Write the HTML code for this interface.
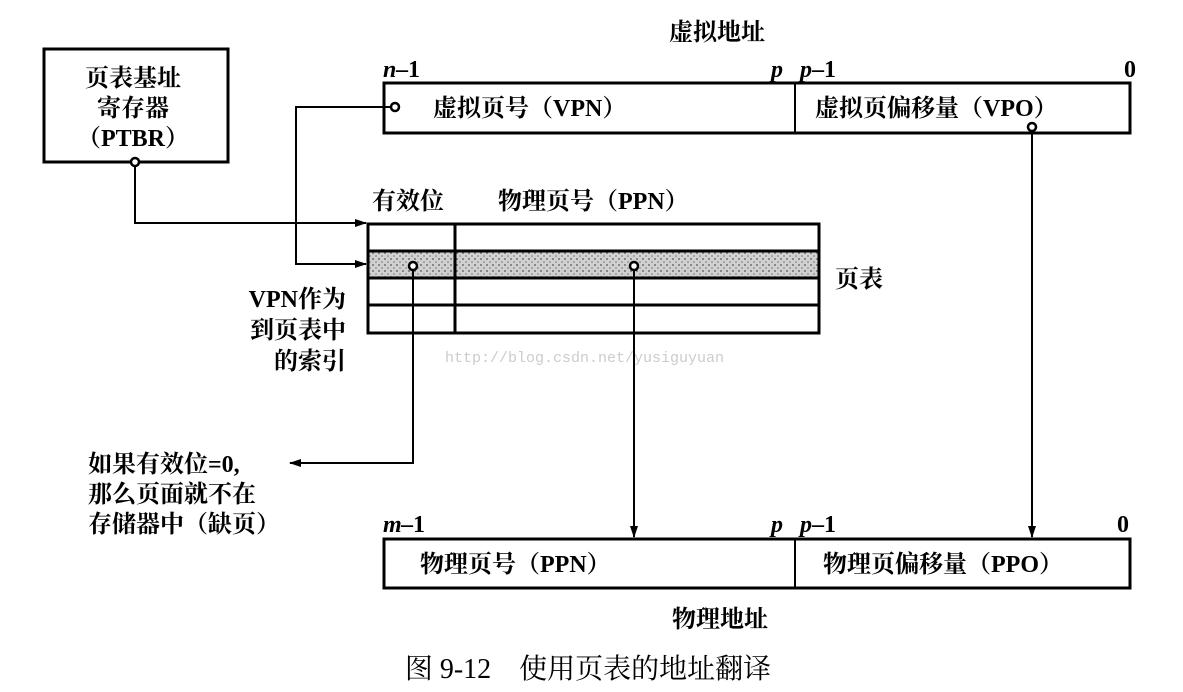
<!DOCTYPE html>
<html><head><meta charset="utf-8"><style>
body{margin:0;background:#fff;}
svg{display:block;}
text{font-family:"Liberation Serif","Noto Serif CJK SC",serif;font-size:24px;fill:#000;font-weight:bold;}
.i{font-style:italic;}
</style></head><body>
<svg width="1183" height="692" viewBox="0 0 1183 692" xmlns="http://www.w3.org/2000/svg">
<defs>
<marker id="a" markerWidth="12" markerHeight="8" refX="11" refY="4" orient="auto" markerUnits="userSpaceOnUse"><path d="M0,0 L12,4 L0,8 Z" fill="#000"/></marker>
<pattern id="dots" width="6" height="6" patternUnits="userSpaceOnUse"><rect width="6" height="6" fill="#d0d0d0"/><circle cx="1" cy="1" r="0.9" fill="#555"/><circle cx="4" cy="4" r="0.8" fill="#777"/></pattern>
</defs>
<text x="717" y="40" text-anchor="middle">虚拟地址</text>
<rect x="44" y="49" width="184" height="113" fill="none" stroke="#000" stroke-width="3"/>
<text x="133" y="86" text-anchor="middle">页表基址</text>
<text x="133" y="116" text-anchor="middle">寄存器</text>
<text x="133" y="146" text-anchor="middle">（PTBR）</text>
<text x="383" y="77" class="i">n</text><text x="396" y="77">–1</text>
<text x="771" y="77" class="i">p</text><text x="800" y="77" class="i">p</text><text x="812" y="77">–1</text>
<text x="1124" y="77">0</text>
<rect x="384" y="83" width="746" height="50" fill="none" stroke="#000" stroke-width="3"/>
<line x1="795" y1="83" x2="795" y2="133" stroke="#000" stroke-width="2"/>
<text x="433" y="116">虚拟页号（VPN）</text>
<text x="815" y="116">虚拟页偏移量（VPO）</text>
<text x="372" y="209">有效位</text>
<text x="498" y="209">物理页号（PPN）</text>
<rect x="368" y="251" width="451" height="27" fill="url(#dots)"/>
<rect x="368" y="224" width="451" height="109" fill="none" stroke="#000" stroke-width="3"/>
<line x1="368" y1="251" x2="819" y2="251" stroke="#000" stroke-width="3"/>
<line x1="368" y1="278" x2="819" y2="278" stroke="#000" stroke-width="3"/>
<line x1="368" y1="305" x2="819" y2="305" stroke="#000" stroke-width="3"/>
<line x1="455" y1="224" x2="455" y2="333" stroke="#000" stroke-width="3"/>
<text x="835" y="287">页表</text>
<text x="346" y="307" text-anchor="end">VPN作为</text>
<text x="346" y="338" text-anchor="end">到页表中</text>
<text x="346" y="369" text-anchor="end">的索引</text>
<text x="445" y="362" style="font-family:'Liberation Mono',monospace;font-size:15px;font-weight:normal;fill:#ccc">http://blog.csdn.net/yusiguyuan</text>
<g fill="none" stroke="#000" stroke-width="2">
<polyline points="135,162 135,223 366,223" marker-end="url(#a)"/>
<polyline points="395,107 296,107 296,264 366,264" marker-end="url(#a)"/>
<polyline points="413,266 413,463 290,463" marker-end="url(#a)"/>
<polyline points="634,266 634,537" marker-end="url(#a)"/>
<polyline points="1032,127 1032,537" marker-end="url(#a)"/>
</g>
<g fill="#fff" stroke="#000" stroke-width="2.5">
<circle cx="135" cy="162" r="4"/><circle cx="395" cy="107" r="4"/><circle cx="413" cy="266" r="4"/><circle cx="634" cy="266" r="4"/><circle cx="1032" cy="127" r="4"/>
</g>
<text x="88" y="472">如果有效位=0,</text>
<text x="88" y="502">那么页面就不在</text>
<text x="88" y="532">存储器中（缺页）</text>
<text x="383" y="532" class="i">m</text><text x="401" y="532">–1</text>
<text x="771" y="532" class="i">p</text><text x="800" y="532" class="i">p</text><text x="812" y="532">–1</text>
<text x="1117" y="532">0</text>
<rect x="384" y="539" width="746" height="49" fill="none" stroke="#000" stroke-width="3"/>
<line x1="795" y1="539" x2="795" y2="588" stroke="#000" stroke-width="2"/>
<text x="420" y="572">物理页号（PPN）</text>
<text x="823" y="572">物理页偏移量（PPO）</text>
<text x="720" y="627" text-anchor="middle">物理地址</text>
<text x="588" y="678" text-anchor="middle" style="font-weight:normal;font-size:28px">图 9-12　使用页表的地址翻译</text>
</svg>
</body></html>
